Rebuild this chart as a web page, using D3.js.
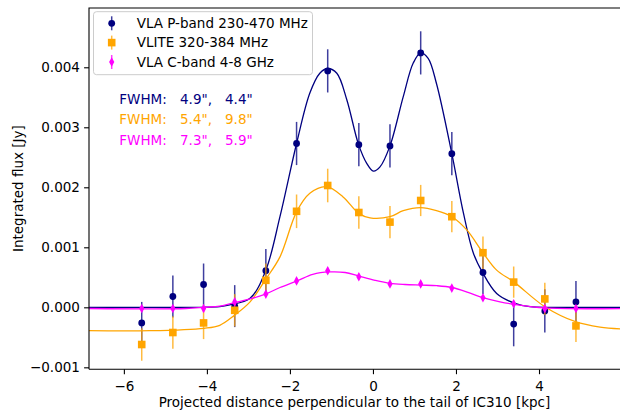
<!DOCTYPE html>
<html><head><meta charset="utf-8">
<script src="https://cdn.jsdelivr.net/npm/d3@7"></script>
<style>
html,body{margin:0;padding:0;background:#fff;}
svg{display:block;font-family:"DejaVu Sans",sans-serif;}
</style></head>
<body><svg id="c" width="620" height="410"></svg>
<script>
// ---- data ----
const xPos = [-5.57,-4.82,-4.08,-3.33,-2.58,-1.84,-1.09,-0.34,0.41,1.15,1.90,2.65,3.39,4.14,4.89];
const pbandY = [-0.00026,0.00018,0.00038,0.00002,0.00061,0.00273,0.00394,0.00271,0.00269,0.00424,0.00256,0.00058,-0.00028,-0.00006,0.00009];
const pbandErr = [0.00035,0.00035,0.00035,0.00035,0.00036,0.00036,0.00036,0.00036,0.00036,0.00036,0.00036,0.00036,0.00037,0.00036,0.00035];
const vliteY = [-0.00062,-0.00042,-0.00026,-0.00005,0.00045,0.0016,0.00203,0.00158,0.00142,0.00178,0.00151,0.00091,0.00042,0.00014,-0.00031];
const vliteErr = [0.00027,0.00027,0.00027,0.00027,0.00028,0.00028,0.00028,0.00027,0.00027,0.00026,0.00026,0.00027,0.00026,0.00027,0.00027];
const cbandY = [-0.00002,-0.00002,-0.00002,0.00009,0.00022,0.00044,0.00061,0.00051,0.00039,0.00039,0.00032,0.00016,0.00006,-0.00002,-0.00002];
const cbandErr = [0.00005,0.00005,0.00005,0.00005,0.00005,0.00005,0.00005,0.00005,0.00005,0.00005,0.00005,0.00005,0.00005,0.00005,0.00005];

// fitted model curves
const pbandFitX = [-6.84,-4.17,-3.69,-3.45,-2.96,-2.58,-2.24,-1.84,-1.52,-1.28,-1.09,-0.87,-0.63,-0.35,-0.15,0.01,0.17,0.41,0.73,0.97,1.15,1.33,1.53,1.90,2.18,2.42,2.64,2.98,3.40,3.78,4.5,5.98];
const pbandFitY = [0,0,0.00001,0.00004,0.00015,0.00062,0.00151,0.00273,0.00357,0.0039,0.00398,0.0039,0.00346,0.00272,0.0024,0.00227,0.00234,0.00269,0.00351,0.00407,0.00424,0.00415,0.00373,0.00256,0.00157,0.0009,0.00058,0.00023,0.00007,0.00001,0,0];
const vliteFitX = [-6.84,-5.37,-4.07,-3.69,-3.33,-2.96,-2.59,-2.24,-1.84,-1.52,-1.12,-0.72,-0.35,-0.07,0.41,0.73,1.15,1.53,1.90,2.26,2.64,2.98,3.40,4.14,4.88,5.47,5.98];
const vliteFitY = [-0.00039,-0.00039,-0.00035,-0.0003,-0.00013,0.00009,0.00046,0.00084,0.00159,0.0019,0.00201,0.00184,0.00157,0.00149,0.00151,0.00161,0.00166,0.00161,0.00151,0.00129,0.00092,0.00062,0.00042,0.00001,-0.00024,-0.00033,-0.00036];
const cbandFitX = [-6.84,-4.5,-4.07,-3.69,-3.33,-2.96,-2.59,-2.24,-1.83,-1.45,-1.04,-0.67,-0.34,0.05,0.41,0.77,1.16,1.54,1.90,2.29,2.65,3.06,3.40,4.14,5.98];
const cbandFitY = [-0.00002,-0.00002,0,0.00002,0.00008,0.00014,0.00022,0.00033,0.00044,0.00055,0.00059,0.00058,0.00052,0.00045,0.0004,0.00038,0.00037,0.00036,0.00033,0.00025,0.00016,0.00009,0.00005,-0.00001,-0.00002];

const seriesNames = ["VLA P-band 230-470 MHz","VLITE 320-384 MHz","VLA C-band 4-8 GHz"];
const fwhmA = ['4.9",','5.4",','7.3",'];
const fwhmB = ['4.4"','9.8"','5.9"'];
const xTicks = [-6,-4,-2,0,2,4];
const yTicks = [-0.001,0,0.001,0.002,0.003,0.004];
const xLabel = "Projected distance perpendicular to the tail of IC310 [kpc]";
const yLabel = "Integrated flux [Jy]";

// ---- layout ----
const colors = ["#000080","#FFA500","#FF00FF"];
const L=89, R=621.2, T=8, B=369.3;
const FS = 13.5;
const svg = d3.select("#c");
const x = d3.scaleLinear().domain([-6.84,5.98]).range([L,R]);
const y = d3.scaleLinear().domain([-0.001033,0.004988]).range([B,T]);
const minus = s => s.replace("-","\u2212");

svg.append("defs").append("clipPath").attr("id","clip")
  .append("rect").attr("x",L).attr("y",T).attr("width",R-L).attr("height",B-T);

// axes
const xa = svg.append("g").attr("transform",`translate(0,${B})`)
  .call(d3.axisBottom(x).tickValues(xTicks).tickSize(4.9).tickPadding(4.2).tickFormat(d=>minus(d3.format("d")(d))));
const ya = svg.append("g").attr("transform",`translate(${L},0)`)
  .call(d3.axisLeft(y).tickValues(yTicks).tickSize(4.9).tickPadding(4.2).tickFormat(d=>minus(d3.format(".3f")(d))));
[xa,ya].forEach(a=>{
  a.select(".domain").remove();
  a.selectAll("line").attr("stroke","#000").attr("stroke-width",1.1);
  a.selectAll("text").attr("font-size",FS).attr("font-family","DejaVu Sans").attr("fill","#000");
});
xa.selectAll("text").attr("dy","0.95em");

const series = [
  {y:pbandY, e:pbandErr, fx:pbandFitX, fy:pbandFitY, m:"circle"},
  {y:vliteY, e:vliteErr, fx:vliteFitX, fy:vliteFitY, m:"square"},
  {y:cbandY, e:cbandErr, fx:cbandFitX, fy:cbandFitY, m:"diamond"}
];

function marker(g, type, cx, cy, col){
  if(type==="circle") g.append("circle").attr("cx",cx).attr("cy",cy).attr("r",3.4).attr("fill",col);
  else if(type==="square") g.append("rect").attr("x",cx-3.8).attr("y",cy-3.8).attr("width",7.6).attr("height",7.6).attr("fill",col);
  else g.append("path").attr("d",`M${cx},${cy-4.8}L${cx+2.6},${cy}L${cx},${cy+4.8}L${cx-2.6},${cy}Z`).attr("fill",col);
}

const plot = svg.append("g").attr("clip-path","url(#clip)");
const line = d3.line().curve(d3.curveCatmullRom.alpha(0.5));
series.forEach((s,k)=>{
  const col = colors[k];
  const g = plot.append("g");
  xPos.forEach((xv,i)=>{
    g.append("line").attr("x1",x(xv)).attr("x2",x(xv)).attr("y1",y(s.y[i]-s.e[i])).attr("y2",y(s.y[i]+s.e[i]))
      .attr("stroke",col).attr("stroke-width",1.5).attr("opacity",0.75);
  });
  xPos.forEach((xv,i)=> marker(g, s.m, x(xv), y(s.y[i]), col));
  plot.append("path").attr("d", line(s.fx.map((xv,i)=>[x(xv), y(s.fy[i])])))
    .attr("fill","none").attr("stroke",col).attr("stroke-width",1.3);
});

// spines
svg.append("path").attr("d",`M${L},${B}V${T}H${R}V${B}H${L}`).attr("fill","none").attr("stroke","#000").attr("stroke-width",1.1);

// legend
const lg = svg.append("g");
lg.append("rect").attr("x",93.5).attr("y",11.7).attr("width",219).attr("height",63).attr("rx",3)
  .attr("fill","#fff").attr("fill-opacity",0.8).attr("stroke","#cccccc").attr("stroke-width",1);
const rowsY = [23.3,42.6,62.0];
seriesNames.forEach((n,k)=>{
  lg.append("line").attr("x1",111.7).attr("x2",111.7).attr("y1",rowsY[k]-7).attr("y2",rowsY[k]+7)
    .attr("stroke",colors[k]).attr("stroke-width",1.5).attr("opacity",0.75);
  marker(lg, series[k].m, 111.7, rowsY[k], colors[k]);
  lg.append("text").attr("x",136.7).attr("y",rowsY[k]).attr("dy","0.36em").attr("font-size",FS).text(n);
});

// FWHM annotations
const fy = [99.3,119.5,139.8];
fwhmA.forEach((a,k)=>{
  const t = svg.append("g").attr("fill",colors[k]).attr("font-size",FS);
  t.append("text").attr("x",119.3).attr("y",fy[k]).attr("dy","0.36em").text("FWHM:");
  t.append("text").attr("x",180).attr("y",fy[k]).attr("dy","0.36em").text(a);
  t.append("text").attr("x",225).attr("y",fy[k]).attr("dy","0.36em").text(fwhmB[k]);
});

// axis labels
svg.append("text").attr("x",354.5).attr("y",407).attr("text-anchor","middle").attr("font-size",FS).text(xLabel);
svg.append("text").attr("transform",`translate(22.5,${(T+B)/2}) rotate(-90)`).attr("text-anchor","middle").attr("font-size",FS).text(yLabel);
</script></body></html>
